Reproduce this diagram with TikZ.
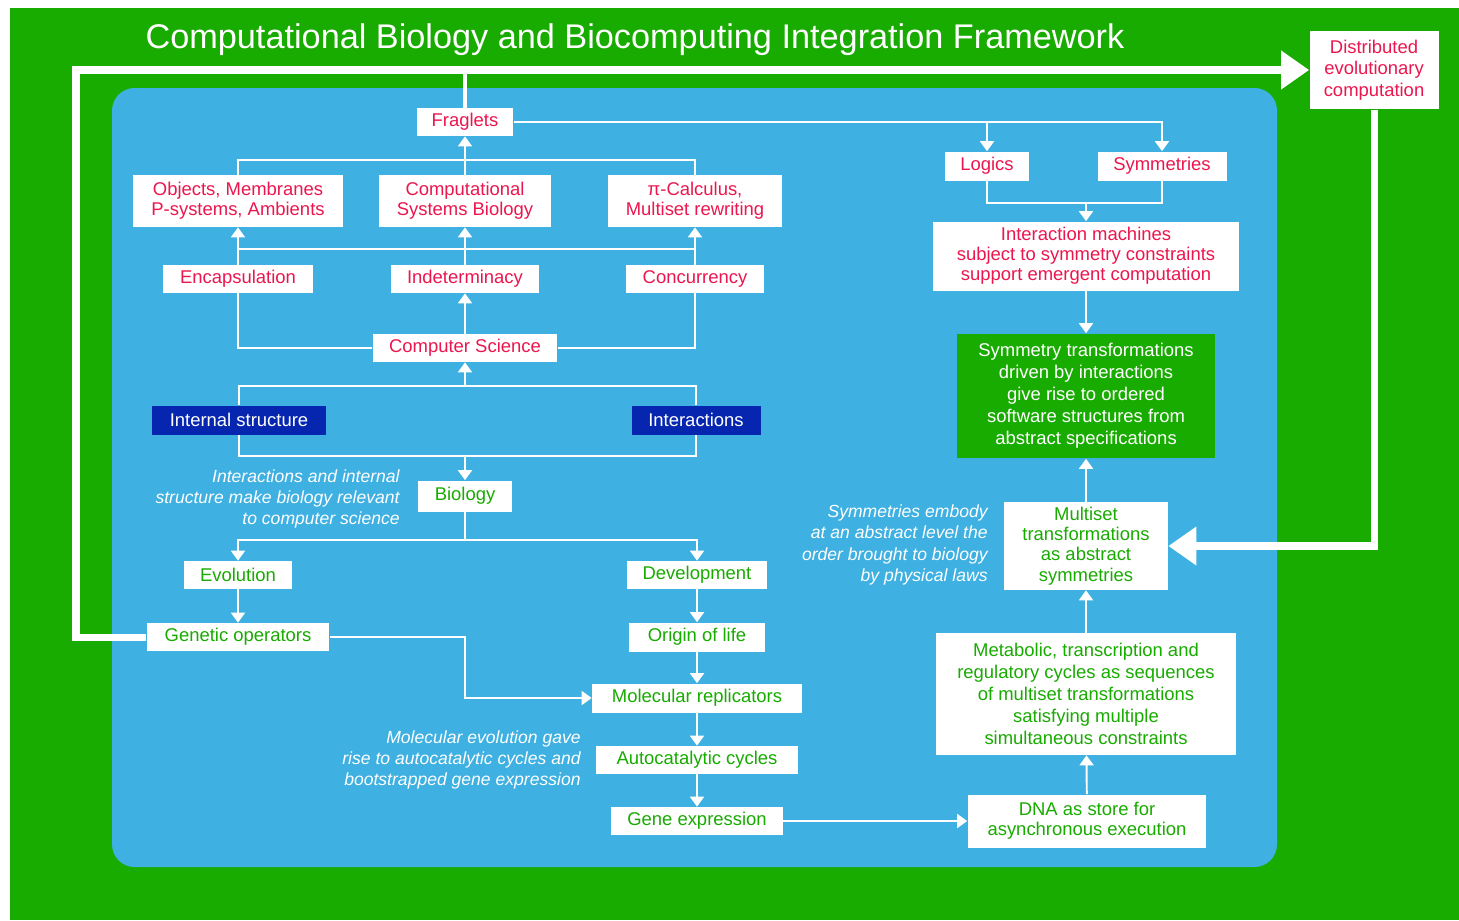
\documentclass[tikz,border=0pt]{standalone}
\usepackage{fontspec}
\setmainfont{Liberation Sans}
\usetikzlibrary{arrows.meta, positioning}

\definecolor{leafgreen}{RGB}{24,171,0}
\definecolor{panelblue}{RGB}{62,176,225}
\definecolor{labelred}{RGB}{236,22,78}
\definecolor{deepnavy}{RGB}{6,38,176}

\tikzset{wh/.style 2 args={minimum width=#1cm, minimum height=#2cm}}

\begin{document}
\begin{tikzpicture}[x=0.02cm, y=-0.02cm]
    \tikzstyle{box} = [rectangle, fill=white, inner sep=0pt, align=center, font=\fontsize{10.5}{11.5}\selectfont]
    \tikzstyle{redbox} = [box, text=labelred]
    \tikzstyle{greenbox} = [box, text=leafgreen]
    \tikzstyle{navybox} = [box, fill=deepnavy, text=white]
    \tikzstyle{note} = [anchor=east, align=right, text=white, inner sep=0pt, font=\itshape\fontsize{10}{12.2}\selectfont]
    \tikzstyle{link} = [draw=white, line width=1.1pt]
    \tikzstyle{arrow} = [link, -{Triangle[width=0.28cm, length=0.2cm]}]
    \tikzstyle{loop} = [draw=white, line width=4pt, -{Triangle[width=0.74cm, length=0.56cm]}]

    \useasboundingbox (0,0) rectangle (1459,920);
    \fill[leafgreen] (10,8) rectangle (1459,920);
    \fill[panelblue, rounded corners=0.45cm] (112,88) rectangle (1277,867);

    \node (title) [text=white, font=\fontsize{19.5}{22}\selectfont] at (635,40) {Computational Biology and Biocomputing Integration Framework};

    % computer science side
    \node (fraglets) [redbox, wh={1.94}{0.56}] at (465,122) {Fraglets};
    \node (objects) [redbox, wh={4.2}{1.04}] at (238,201) {Objects, Membranes\\P-systems, Ambients};
    \node (compsys) [redbox, wh={3.46}{1.04}] at (465,201) {Computational\\Systems Biology};
    \node (picalc) [redbox, wh={3.5}{1.04}] at (695,201) {π-Calculus,\\Multiset rewriting};
    \node (encaps) [redbox, wh={3.02}{0.56}] at (238,279) {Encapsulation};
    \node (indet) [redbox, wh={2.98}{0.56}] at (465,279) {Indeterminacy};
    \node (concur) [redbox, wh={2.76}{0.56}] at (695,279) {Concurrency};
    \node (compsci) [redbox, wh={3.7}{0.56}] at (465,348) {Computer Science};
    \node (internal) [navybox, wh={3.5}{0.58}] at (239,420) {Internal structure};
    \node (interact) [navybox, wh={2.58}{0.58}] at (696,420) {Interactions};

    % biology side
    \node (biology) [greenbox, wh={1.9}{0.62}] at (465,496) {Biology};
    \node (evolution) [greenbox, wh={2.18}{0.56}] at (238,575) {Evolution};
    \node (develop) [greenbox, wh={2.8}{0.56}] at (697,575) {Development};
    \node (genetic) [greenbox, wh={3.66}{0.56}] at (238,637) {Genetic operators};
    \node (origin) [greenbox, wh={2.72}{0.58}] at (697,637) {Origin of life};
    \node (molrep) [greenbox, wh={4.2}{0.58}] at (697,698) {Molecular replicators};
    \node (autocat) [greenbox, wh={4.04}{0.56}] at (697,760) {Autocatalytic cycles};
    \node (geneexp) [greenbox, wh={3.44}{0.56}] at (697,821) {Gene expression};

    % right column
    \node (logics) [redbox, wh={1.68}{0.58}] at (987,166) {Logics};
    \node (symm) [redbox, wh={2.58}{0.58}] at (1162,166) {Symmetries};
    \node (intmach) [redbox, wh={6.14}{1.38}] at (1086,256) {Interaction machines\\subject to symmetry constraints\\support emergent computation};
    \node (symtrans) [box, fill=leafgreen, text=white, wh={5.16}{2.5}, font=\fontsize{10.5}{12.5}\selectfont] at (1086,396) {Symmetry transformations\\driven by interactions\\give rise to ordered\\software structures from\\abstract specifications};
    \node (multiset) [greenbox, wh={3.28}{1.76}] at (1086,546) {Multiset\\transformations\\as abstract\\symmetries};
    \node (metabolic) [greenbox, wh={6.02}{2.44}, font=\fontsize{10.5}{12.5}\selectfont] at (1086,694) {Metabolic, transcription and\\regulatory cycles as sequences\\of multiset transformations\\satisfying multiple\\simultaneous constraints};
    \node (dna) [greenbox, wh={4.78}{1.06}] at (1087,821) {DNA as store for\\asynchronous execution};
    \node (distrib) [redbox, wh={2.58}{1.58}, font=\fontsize{10.5}{12.3}\selectfont] at (1374,70) {Distributed\\evolutionary\\computation};

    % side notes
    \node (bionote) [note] at (400,499) {Interactions and internal\\structure make biology relevant\\to computer science};
    \node (symnote) [note] at (988,545) {Symmetries embody\\at an abstract level the\\order brought to biology\\by physical laws};
    \node (molnote) [note] at (581,760) {Molecular evolution gave\\rise to autocatalytic cycles and\\bootstrapped gene expression};

    % junctions
    \coordinate (topline) at (76,70);
    \coordinate (topbar) at (465,160);
    \coordinate (midbar) at (465,249);
    \coordinate (csbar) at (465,386);
    \coordinate (biobar) at (465,456);
    \coordinate (evobar) at (465,540);
    \coordinate (genbend) at (465,698);
    \coordinate (logbar) at (1086,203);

    % outer loops
    \draw [loop] (genetic.west) -| (topline) -- (distrib.west);
    \draw [white, line width=2.6pt] (fraglets.north) -- (fraglets.north |- topline);
    \draw [loop] (distrib.south) |- (multiset.east);

    \draw [arrow] (fraglets.east) -| (symm.north);
    \draw [arrow] (fraglets.east -| logics.north) -- (logics.north);
    \draw [link] (objects.north) |- (topbar) -| (picalc.north);
    \draw [arrow] (compsys.north) -- (fraglets.south);
    \draw [link] (encaps.north |- midbar) -- (concur.north |- midbar);
    \draw [arrow] (encaps.north) -- (objects.south);
    \draw [arrow] (indet.north) -- (compsys.south);
    \draw [arrow] (concur.north) -- (picalc.south);
    \draw [arrow] (compsci.north) -- (indet.south);
    \draw [link] (compsci.west) -| (encaps.south);
    \draw [link] (compsci.east) -| (concur.south);
    \draw [link] (internal.north) |- (csbar) -| (interact.north);
    \draw [arrow] (csbar) -- (compsci.south);
    \draw [link] (internal.south) |- (biobar) -| (interact.south);
    \draw [arrow] (biobar) -- (biology.north);

    \draw [link] (biology.south) -- (evobar);
    \draw [arrow] (evobar) -| (evolution.north);
    \draw [arrow] (evobar) -| (develop.north);
    \draw [arrow] (evolution) -- (genetic);
    \draw [arrow] (develop) -- (origin);
    \draw [arrow] (origin) -- (molrep);
    \draw [arrow] (molrep) -- (autocat);
    \draw [arrow] (autocat) -- (geneexp);
    \draw [arrow] (genetic.east) -| (genbend) -- (molrep.west);
    \draw [arrow] (geneexp.east) -- (dna.west);

    \draw [arrow] (dna) -- (metabolic);
    \draw [arrow] (metabolic) -- (multiset);
    \draw [arrow] (multiset) -- (symtrans);
    \draw [arrow] (intmach) -- (symtrans);
    \draw [link] (logics.south) |- (logbar) -| (symm.south);
    \draw [arrow] (logbar) -- (intmach.north);
\end{tikzpicture}
\end{document}
